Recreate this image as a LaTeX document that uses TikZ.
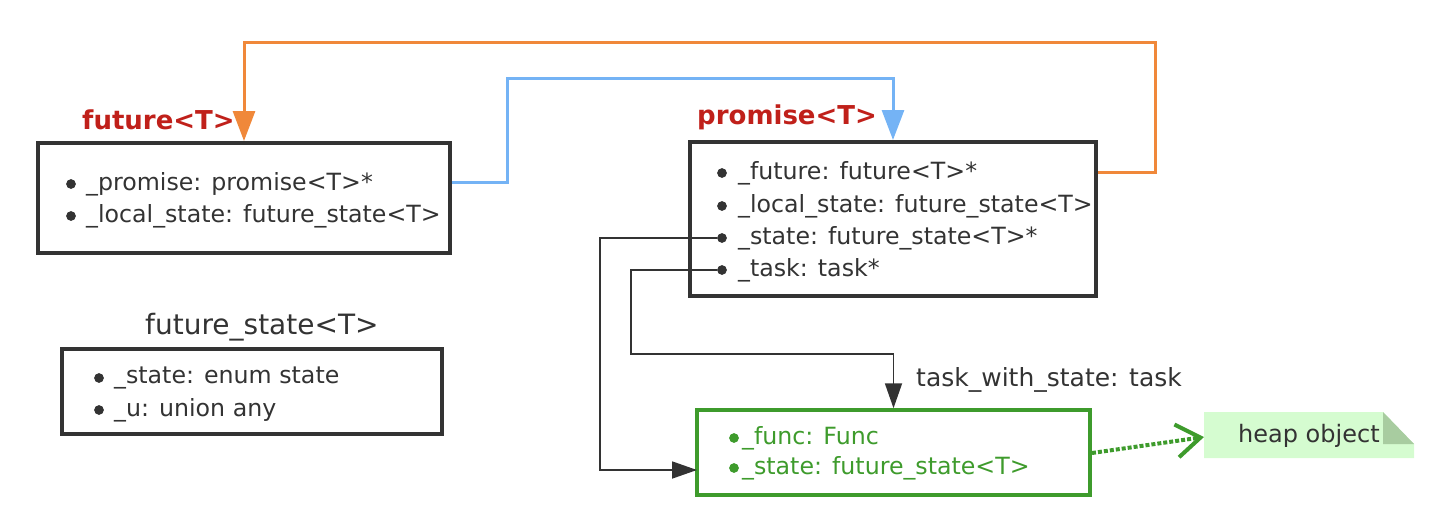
\documentclass[tikz,border=0pt]{standalone}
\usepackage{fontspec}
\setmainfont{DejaVu Sans}
\usetikzlibrary{arrows.meta,calc}
\definecolor{ink}{HTML}{333333}
\definecolor{redT}{HTML}{C0201A}
\definecolor{orangeL}{HTML}{F0883A}
\definecolor{blueL}{HTML}{74B3F5}
\definecolor{greenB}{HTML}{3E9B2C}
\definecolor{noteF}{HTML}{D5FCD0}
\definecolor{foldF}{HTML}{A8CCA0}
\tikzset{
  box/.style={draw=ink, line width=4pt, inner sep=0pt},
  gbox/.style={draw=greenB, line width=3.5pt, inner sep=0pt},
  item/.style={anchor=west, inner sep=0pt, text=ink, font=\fontsize{23.7}{26}\selectfont},
  gitem/.style={anchor=west, inner sep=0pt, text=greenB, font=\fontsize{23.7}{26}\selectfont},
  dot/.style={circle, fill=ink, draw=ink, line width=0.6pt, inner sep=0pt, minimum size=9pt},
  gdot/.style={circle, fill=greenB, draw=greenB, line width=0.6pt, inner sep=0pt, minimum size=9pt},
  title/.style={anchor=west, inner sep=0pt, text=redT, font=\bfseries\fontsize{26}{30}\selectfont},
  link/.style={draw=ink, line width=1.8pt, -{Triangle[length=25pt,width=17pt]}},
  bigarrow/.style={line width=3pt, -{Triangle[length=30pt,width=22pt]}},
}
\begin{document}
\begin{tikzpicture}[x=1pt,y=-1pt]
\useasboundingbox (0,0) rectangle (1430,528);
% boxes
\node[box, minimum width=412pt, minimum height=110pt] (fbox) at (244,198) {};
\node[box, minimum width=406pt, minimum height=154pt] (pbox) at (893,219) {};
\node[box, minimum width=380pt, minimum height=85pt] (sbox) at (252,391.5) {};
\node[gbox, minimum width=393pt, minimum height=85pt] (tbox) at (893.5,452.5) {};
% titles
\node[title] (ft) at (82,120) {future<T>};
\node[title] (pt) at (697,117) {promise<T>};
\node[anchor=west, inner sep=0pt, text=ink, font=\fontsize{28}{32}\selectfont] (st) at (145,327) {future\_state<T>};
\node[anchor=west, inner sep=0pt, text=ink, font=\fontsize{25}{28}\selectfont] (tl) at (916,380) {task\_with\_state: task};
% items
\node[dot] (fd1) at (71,184) {};
\node[item] (f1) at (86,184) {\_promise: promise<T>*};
\node[dot] (fd2) at (71,216) {};
\node[item] (f2) at (86,216) {\_local\_state: future\_state<T>};
\node[dot] (pd1) at (722,173) {};
\node[item] (p1) at (738,173) {\_future: future<T>*};
\node[dot] (pd2) at (722,206) {};
\node[item] (p2) at (738,206) {\_local\_state: future\_state<T>};
\node[dot] (pd3) at (722,238) {};
\node[item] (p3) at (738,238) {\_state: future\_state<T>*};
\node[dot] (pd4) at (722,270) {};
\node[item] (p4) at (738,270) {\_task: task*};
\node[dot] (sd1) at (99,378) {};
\node[item] (s1) at (114,378) {\_state: enum state};
\node[dot] (sd2) at (99,410) {};
\node[item] (s2) at (114,410) {\_u: union any};
\node[gdot] (td1) at (734,438) {};
\node[gitem] (t1) at (742,438) {\_func: Func};
\node[gdot] (td2) at (734,468) {};
\node[gitem] (t2) at (742,468) {\_state: future\_state<T>};
% note
\fill[noteF] (1204,412) -- (1383,412) -- (1414,444) -- (1414,458) -- (1204,458) -- cycle;
\fill[foldF] (1383,412) -- (1383,444) -- (1414,444) -- cycle;
\node[anchor=west, inner sep=0pt, text=ink, font=\fontsize{24}{27}\selectfont] (note) at (1238,436) {heap object};
\coordinate (noteW) at (1204,437);
% connectors
\coordinate (po) at (1098,172);
\coordinate (o1) at (1155,42);
\draw[draw=orangeL, bigarrow] (po) -| (o1) -| (fbox.north);
\coordinate (fo) at (452,182);
\coordinate (b1) at (507,78);
\draw[draw=blueL, bigarrow] (fo) -| (b1) -| (pbox.north);
\coordinate (sb) at (600,470);
\coordinate (sc) at (697,470);
\draw[link] (pd3.west) -| (sb) -- (sc);
\coordinate (tb) at (631,354);
\draw[link] (pd4.west) -| (tb) -| (tbox.north);
\coordinate (ga) at (1092,453);
\draw[draw=greenB, line width=4pt, dotted, -{Straight Barb[length=24pt,width=33pt,line width=4pt]}] (ga) -- (noteW);
\end{tikzpicture}
\end{document}
